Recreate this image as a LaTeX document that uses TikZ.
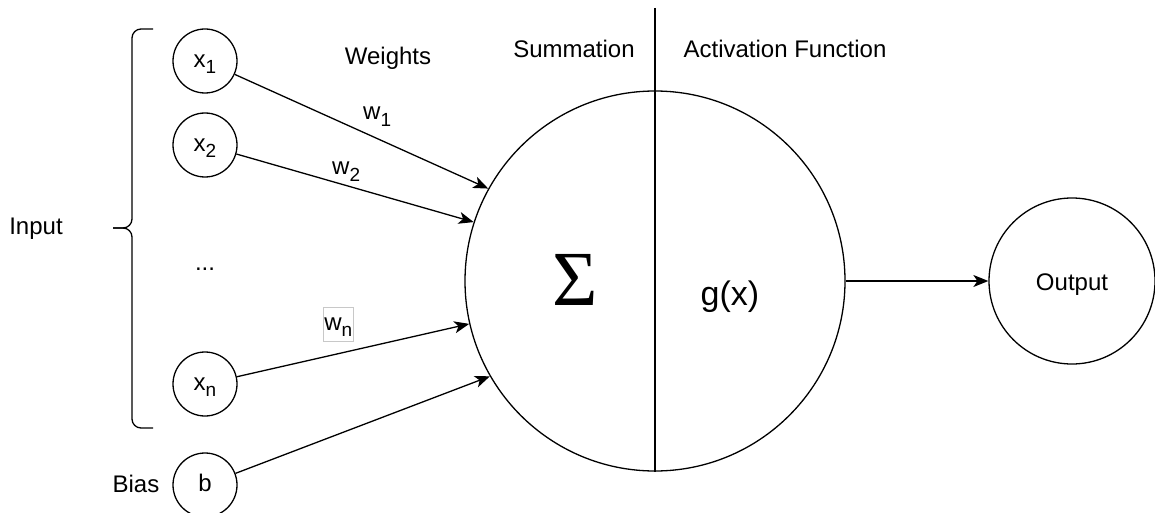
\documentclass[tikz,border=0pt]{standalone}
\usepackage{fontspec}
\setmainfont{Liberation Sans}
\newfontfamily\sigmafont{Liberation Serif}
\usepackage{xcolor}
\usepackage{tikz}
\usetikzlibrary{arrows.meta,positioning,calc}
\definecolor{ink}{RGB}{0,0,0}
\definecolor{boxgray}{RGB}{200,200,200}
\newcommand{\lowidx}[1]{\raisebox{-6.5pt}{\fontsize{19}{20}\selectfont #1}}
\tikzset{
  inputnode/.style={circle, draw=ink, line width=1.3pt, minimum size=64pt,
    inner sep=0pt, text height=12.5pt, text depth=0pt,
    font=\fontsize{24}{28}\selectfont},
  neuronnode/.style={circle, draw=ink, line width=1.3pt, minimum size=380pt},
  outputnode/.style={circle, draw=ink, line width=1.3pt, minimum size=166pt,
    text height=18pt, text depth=0pt, font=\fontsize{24}{28}\selectfont},
  labeltext/.style={inner sep=0pt, anchor=base, font=\fontsize{24}{28}\selectfont},
  weighttext/.style={inner sep=0pt, anchor=base west, font=\fontsize{24}{28}\selectfont},
  flow/.style={-{Stealth[length=15pt, width=12pt, inset=4pt]}, line width=1.3pt},
  plainline/.style={line width=1.3pt}
}

\begin{document}
\begin{tikzpicture}[x=1pt, y=-1pt]
\useasboundingbox (0,0) rectangle (1155,513);

\node[inputnode] (x1) at (205,61) {x\lowidx{1}};
\node[inputnode] (x2) at (205,145) {x\lowidx{2}};
\node[labeltext] (dots) at (205,270) {...};
\node[inputnode] (xn) at (205,384) {x\lowidx{n}};
\node[inputnode] (bias) at (205,485) {b};
\node[labeltext] (inputlabel) at (36,234) {Input};
\node[labeltext] (biaslabel) at (136,492) {Bias};

\node[neuronnode] (neuron) at (655,281) {};
\node[outputnode] (output) at (1072,281) {Output};
\coordinate (divtop) at (655,8);

\node[labeltext] (weights) at (388,65) {Weights};
\node[labeltext] (summation) at (574,58) {Summation};
\node[labeltext] (activation) at (785,58) {Activation Function};
\node[labeltext, font=\fontsize{78}{80}\sigmafont] (sigma) at (575,305) {Σ};
\node[labeltext, font=\fontsize{34}{38}\selectfont] (gx) at (730,305) {g(x)};

\node[weighttext] (w1) at (363,120) {w\lowidx{1}};
\node[weighttext] (w2) at (332,175) {w\lowidx{2}};
\node[weighttext, draw=boxgray, line width=0.8pt, inner sep=1.5pt,
  text height=21.5pt, text depth=9.5pt] (wn) at (322.5,330) {w\lowidx{n}};

\coordinate (bracetop) at (153,29);
\coordinate (bracemid) at (113,228);
\coordinate (bracebot) at (153,428);
\draw[plainline, rounded corners=9pt] (bracetop) -- (132,29) -- (132,228) -- (bracemid);
\draw[plainline, rounded corners=9pt] (bracemid) -- (132,228) -- (132,428) -- (bracebot);

\draw[plainline] (divtop) -- (neuron.south);

\draw[flow] (x1) -- (neuron.151.8);
\draw[flow] (x2) -- (neuron.162.8);
\draw[flow] (xn) -- (neuron.-167.6);
\draw[flow] (bias) -- (neuron.-150.3);
\draw[flow] (neuron.east) -- (output.west);
\end{tikzpicture}
\end{document}
